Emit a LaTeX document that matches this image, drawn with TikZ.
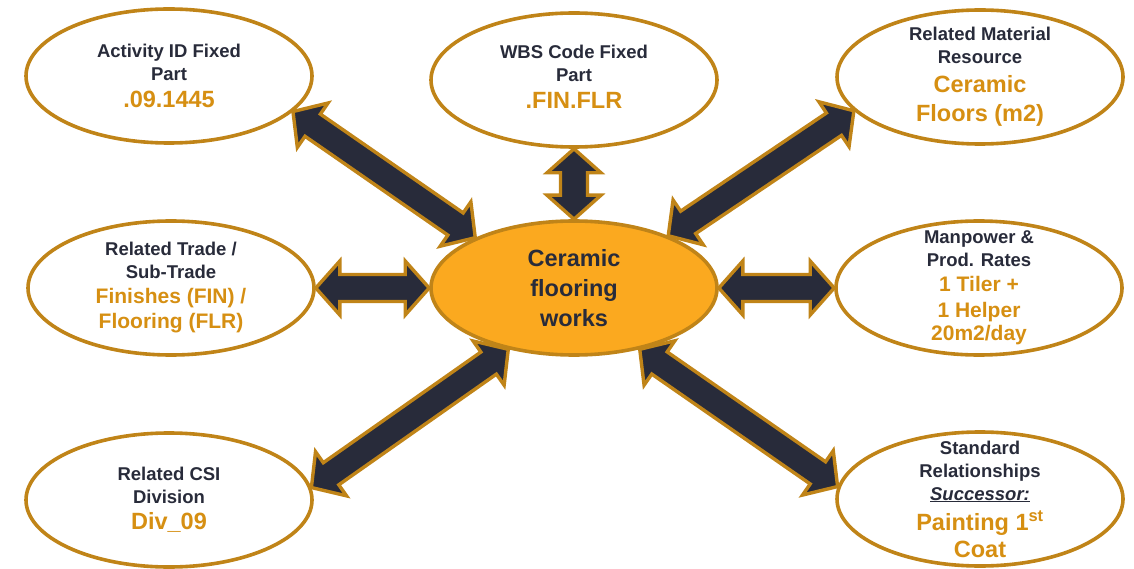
\documentclass[tikz,border=0pt]{standalone}
\usepackage{fontspec}
\setmainfont{Liberation Sans}
\usetikzlibrary{shapes.geometric,calc}

\definecolor{gold}{HTML}{C08418}
\definecolor{navy}{HTML}{282B3A}
\definecolor{amber}{HTML}{D68F12}
\definecolor{hub}{HTML}{FBA91F}

\newcommand\dkfont{\fontsize{18.5}{23}\selectfont\bfseries}
\newcommand\hubfont{\fontsize{23.5}{30}\selectfont\bfseries}
\newcommand\hi[1]{{\fontsize{23.5}{28}\selectfont\color{amber}#1}}
\newcommand\hismall[1]{{\fontsize{21}{25}\selectfont\color{amber}#1}}

% block double arrow between two points (tips), outlined in gold
\newcommand\dblarrow[2]{%
  \coordinate (da) at (#1);
  \coordinate (db) at (#2);
  \coordinate (pa) at ($(da)!24pt!(db)$);
  \coordinate (pb) at ($(db)!24pt!(da)$);
  \draw[arr] (da) -- ($(pa)!27pt!90:(db)$) -- ($(pa)!13.5pt!90:(db)$)
    -- ($(pb)!13.5pt!-90:(da)$) -- ($(pb)!27pt!-90:(da)$) -- (db)
    -- ($(pb)!27pt!90:(da)$) -- ($(pb)!13.5pt!90:(da)$)
    -- ($(pa)!13.5pt!-90:(db)$) -- ($(pa)!27pt!-90:(db)$) -- cycle;
}

\begin{document}
\begin{tikzpicture}[x=1pt,y=-1pt,
  bubble/.style={ellipse, draw=gold, line width=3.6pt, fill=white,
    minimum width=286pt, minimum height=134pt, inner sep=0pt},
  hubnode/.style={bubble, fill=hub},
  txt/.style={font=\dkfont, text=navy, align=center, inner sep=0pt},
  hubtxt/.style={font=\hubfont, text=navy, align=center, inner sep=0pt},
  arr/.style={draw=gold, fill=navy, line width=3.4pt, line join=miter}]

\useasboundingbox (0,0) rectangle (1134,569);

% bubbles
\node[bubble]  (tl) at (169,76)  {};
\node[bubble]  (tm) at (574,80)  {};
\node[bubble]  (tr) at (980,77)  {};
\node[bubble]  (ml) at (171,288) {};
\node[bubble]  (mr) at (979,288) {};
\node[bubble]  (bl) at (169,500) {};
\node[bubble]  (br) at (980,499) {};
\node[hubnode] (c)  at (574,288) {};

% connectors
\dblarrow{tl.-16.6}{c.153.6}
\dblarrow{tm.south}{c.north}
\dblarrow{c.29}{tr.195.8}
\dblarrow{ml.east}{c.west}
\dblarrow{c.east}{mr.west}
\dblarrow{c.-137.7}{bl.5}
\dblarrow{c.-43}{br.175}

% texts
\node[hubtxt] (ct) at (c) {Ceramic\\flooring\\works};
\node[txt] (tlt) at (tl) {Activity ID Fixed\\Part\\[4pt]\hi{.09.1445}};
\node[txt] (tmt) at ([yshift=3pt]tm.center) {WBS Code Fixed\\Part\\[4pt]\hi{.FIN.FLR}};
\node[txt] (trt) at (tr) {Related Material\\Resource\\[6pt]\hi{Ceramic}\\[6pt]\hi{Floors (m2)}};
\node[txt] (mlt) at (ml) {Related Trade /\\Sub-Trade\\[2pt]\hismall{Finishes (FIN) /}\\[2pt]\hismall{Flooring (FLR)}};
\node[txt] (mrt) at (mr) {Manpower \&\\Prod. Rates\\[2pt]\hismall{1 Tiler +}\\[3pt]\hismall{1 Helper}\\\hismall{20m2/day}};
\node[txt] (blt) at (bl) {Related CSI\\Division\\[3pt]\hi{Div\_09}};
\node[txt] (brt) at (br) {Standard\\Relationships\\\underline{\textit{Successor:}}\\[7pt]\hi{Painting 1\textsuperscript{st}}\\[4pt]\hi{Coat}};
\end{tikzpicture}
\end{document}
